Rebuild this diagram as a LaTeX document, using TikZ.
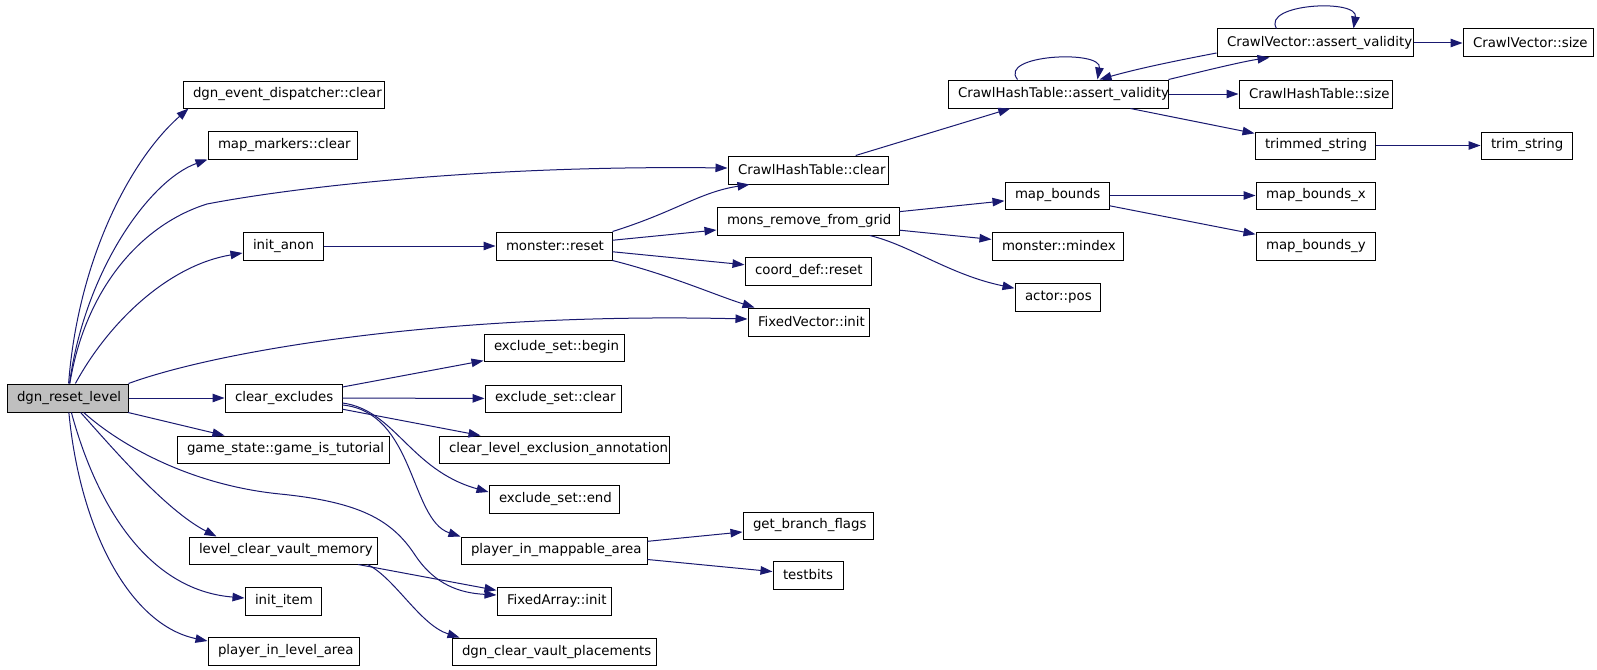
\documentclass[tikz,border=0pt]{standalone}
\usepackage{fontspec}
\setmainfont{DejaVu Sans}
\usetikzlibrary{arrows.meta}
\definecolor{edgeblue}{HTML}{191970}
\definecolor{rootgray}{HTML}{BFBFBF}
\newcommand{\mybox}[7][white]{%
  \node[box,fill=#1,minimum width={(#5-#3)*1pt},minimum height={(#6-#4)*1pt}]
    (#2) at ({(#3+#5)/2},{(#4+#6)/2}) {\makebox[\dimexpr #5pt-#3pt-20pt\relax][l]{#7}};}
\begin{document}
\begin{tikzpicture}[x=1pt,y=-1pt,
  box/.style={draw=black,line width=1pt,inner sep=0pt,
    font=\fontsize{13.33}{16}\selectfont},
  e/.style={draw=edgeblue,line width=1pt,
    -{Triangle[length=12pt,width=8.5pt]},fill=none}]
\useasboundingbox[fill=white] (0,0) rectangle (1597,669);
% nodes
\mybox[rootgray]{R}{7}{384}{128}{412}{dgn\_reset\_level}
\mybox{dec}{183}{81}{384}{108}{dgn\_event\_dispatcher::clear}
\mybox{mm}{208}{131}{357}{159}{map\_markers::clear}
\mybox{ia}{243}{232}{323}{260}{init\_anon}
\mybox{ce}{225}{384}{342}{412}{clear\_excludes}
\mybox{gst}{177}{436}{389}{463}{game\_state::game\_is\_tutorial}
\mybox{lcvm}{189}{537}{377}{564}{level\_clear\_vault\_memory}
\mybox{ii}{245}{587}{321}{615}{init\_item}
\mybox{pila}{208}{637}{359}{665}{player\_in\_level\_area}
\mybox{chc}{728}{156}{888}{184}{CrawlHashTable::clear}
\mybox{mr}{496}{232}{612}{260}{monster::reset}
\mybox{mrg}{717}{207}{899}{235}{mons\_remove\_from\_grid}
\mybox{cdr}{745}{257}{871}{285}{coord\_def::reset}
\mybox{fvi}{748}{308}{869}{336}{FixedVector::init}
\mybox{esb}{484}{334}{624}{361}{exclude\_set::begin}
\mybox{esc}{485}{385}{621}{412}{exclude\_set::clear}
\mybox{clea}{439}{436}{669}{463}{clear\_level\_exclusion\_annotation}
\mybox{ese}{489}{485}{619}{513}{exclude\_set::end}
\mybox{pima}{461}{537}{647}{564}{player\_in\_mappable\_area}
\mybox{gbf}{743}{512}{873}{539}{get\_branch\_flags}
\mybox{tb}{773}{561}{843}{589}{testbits}
\mybox{fai}{497}{587}{611}{615}{FixedArray::init}
\mybox{dcvp}{452}{638}{656}{665}{dgn\_clear\_vault\_placements}
\mybox{chav}{948}{80}{1168}{108}{CrawlHashTable::assert\_validity}
\mybox{mb}{1005}{182}{1109}{209}{map\_bounds}
\mybox{mmi}{992}{232}{1123}{260}{monster::mindex}
\mybox{ap}{1015}{283}{1100}{311}{actor::pos}
\mybox{cvav}{1217}{29}{1413}{57}{CrawlVector::assert\_validity}
\mybox{cvs}{1463}{29}{1593}{57}{CrawlVector::size}
\mybox{chs}{1239}{80}{1392}{108}{CrawlHashTable::size}
\mybox{ts}{1255}{132}{1375}{159}{trimmed\_string}
\mybox{trs}{1481}{132}{1572}{159}{trim\_string}
\mybox{mbx}{1256}{182}{1375}{209}{map\_bounds\_x}
\mybox{mby}{1256}{232}{1375}{260}{map\_bounds\_y}
% edges from dgn_reset_level
\draw[e] (R) .. controls (78,260) and (130,160) .. ([xshift=6pt]dec.south west);
\draw[e] (R) .. controls (85,270) and (150,180) .. (mm.south west);
\draw[e] (R) .. controls (85,290) and (140,225) .. (207,204)
   .. controls (290,188) and (480,165) .. ([yshift=2pt]chc.west);
\draw[e] (R) .. controls (110,320) and (170,265) .. ([yshift=-7pt]ia.west);
\draw[e] (R.north east) .. controls (220,350) and (450,312) .. ([yshift=3pt]fvi.west);
\draw[e] (R) -- (ce);
\draw[e] (R) -- (gst);
\draw[e] (R) .. controls (120,445) and (190,485) .. (280,494)
   .. controls (360,502) and (392,520) .. (415,555)
   .. controls (435,585) and (460,593) .. ([yshift=6pt]fai.west);
\draw[e] (R) .. controls (110,445) and (165,510) .. ([xshift=28pt]lcvm.north west);
\draw[e] (R) .. controls (95,500) and (145,590) .. ([yshift=3pt]ii.west);
\draw[e] (R) .. controls (80,530) and (130,625) .. ([yshift=10pt]pila.west);
% init_anon / monster::reset
\draw[e] (ia) -- (mr);
\draw[e] (mr.north east) .. controls (675,212) and (700,192) .. ([xshift=22pt]chc.south west);
\draw[e] (mr) -- (mrg);
\draw[e] (mr) -- (cdr);
\draw[e] (mr.south east) .. controls (670,275) and (715,295) .. ([xshift=7pt]fvi.north west);
% CrawlHashTable
\draw[e] (chc) -- (chav);
\draw[e] ([xshift=70pt]chav.north west) .. controls +(-20,-25) and +(5,-30) .. ([xshift=150pt]chav.north west);
\draw[e] (chav.north east) .. controls (1200,72) and (1240,62) .. ([xshift=53pt]cvav.south west);
\draw[e] ([yshift=-10pt]cvav.west) .. controls (1180,60) and (1140,68) .. ([xshift=152pt]chav.north west);
\draw[e] ([xshift=60pt]cvav.north west) .. controls +(-15,-25) and +(5,-30) .. ([xshift=137pt]cvav.north west);
\draw[e] (cvav) -- (cvs);
\draw[e] (chav) -- (chs);
\draw[e] (chav) -- (ts);
\draw[e] (ts) -- (trs);
% mons_remove_from_grid
\draw[e] (mrg) -- (mb);
\draw[e] (mrg) -- (mmi);
\draw[e] (mrg) .. controls (910,245) and (950,275) .. (ap);
\draw[e] (mb) -- (mbx);
\draw[e] (mb) -- (mby);
% clear_excludes
\draw[e] (ce) -- (esb);
\draw[e] (ce) -- (esc);
\draw[e] (ce) -- (clea);
\draw[e] ([yshift=-5pt]ce.east) .. controls (395,410) and (410,470) .. ([yshift=7pt]ese.west);
\draw[e] ([yshift=-7pt]ce.east) .. controls (415,412) and (410,520) .. (pima.north west);
\draw[e] (pima) -- (gbf);
\draw[e] (pima) -- (tb);
% level_clear_vault_memory
\draw[e] (lcvm) -- (fai);
\draw[e] ([xshift=-10pt]lcvm.south east) .. controls (395,578) and (420,625) .. ([xshift=8pt]dcvp.north west);
\end{tikzpicture}
\end{document}
